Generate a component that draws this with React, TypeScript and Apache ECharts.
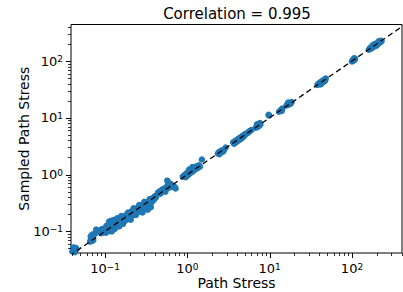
import React, { useEffect, useRef } from 'react';
import * as echarts from 'echarts';

const titleText = 'Correlation = 0.995';
const xName = 'Path Stress';
const yName = 'Sampled Path Stress';

const xMin = 0.0386;
const xMax = 405;
const yMin = 0.0415;
const yMax = 440;

const majorTicks = [0.1, 1, 10, 100];
const minorMultipliers = [2, 3, 4, 5, 6, 7, 8, 9];
const decades = [0.01, 0.1, 1, 10, 100];

// [path stress, sampled path stress]
const cornerCluster: [number, number][] = [
  [0.040, 0.044], [0.041, 0.047], [0.042, 0.050], [0.043, 0.046], [0.044, 0.048],
  [0.041, 0.052], [0.043, 0.043], [0.045, 0.049], [0.042, 0.045], [0.044, 0.051],
];
const smallCluster: [number, number][] = [
  [0.066, 0.066], [0.067, 0.070], [0.068, 0.074], [0.069, 0.068], [0.070, 0.072],
  [0.068, 0.079], [0.069, 0.084], [0.070, 0.088], [0.071, 0.076], [0.067, 0.082],
  [0.072, 0.070], [0.075, 0.090], [0.078, 0.107],
];
const lowBand: [number, number][] = [
  [0.086, 0.098], [0.088, 0.105], [0.090, 0.093], [0.092, 0.110], [0.094, 0.100],
  [0.096, 0.107], [0.098, 0.096], [0.100, 0.112], [0.101, 0.102], [0.103, 0.095],
  [0.105, 0.108], [0.107, 0.118], [0.108, 0.100], [0.110, 0.125], [0.112, 0.112],
  [0.114, 0.104], [0.115, 0.130], [0.117, 0.118], [0.118, 0.108], [0.120, 0.135],
  [0.122, 0.122], [0.124, 0.112], [0.125, 0.140], [0.127, 0.128], [0.128, 0.115],
  [0.130, 0.145], [0.132, 0.132], [0.134, 0.120], [0.136, 0.150], [0.138, 0.138],
  [0.140, 0.125], [0.142, 0.158], [0.145, 0.145], [0.147, 0.132], [0.150, 0.165],
  [0.152, 0.150], [0.155, 0.138], [0.158, 0.172], [0.160, 0.158], [0.163, 0.145],
  [0.166, 0.180], [0.170, 0.165], [0.172, 0.150], [0.175, 0.188], [0.178, 0.172],
  [0.112, 0.148], [0.118, 0.152], [0.126, 0.158], [0.121, 0.100], [0.131, 0.110],
  [0.140, 0.170], [0.148, 0.122], [0.157, 0.185], [0.165, 0.135], [0.104, 0.125],
];
const midBand: [number, number][] = [
  [0.182, 0.160], [0.185, 0.198], [0.188, 0.180], [0.192, 0.168], [0.196, 0.210],
  [0.200, 0.192], [0.204, 0.178], [0.208, 0.222], [0.212, 0.205], [0.216, 0.190],
  [0.220, 0.238], [0.225, 0.218], [0.230, 0.200], [0.235, 0.250], [0.240, 0.230],
  [0.245, 0.212], [0.250, 0.262], [0.256, 0.245], [0.262, 0.225], [0.268, 0.280],
  [0.274, 0.258], [0.280, 0.240], [0.288, 0.298], [0.295, 0.275], [0.302, 0.255],
  [0.310, 0.318], [0.318, 0.292], [0.326, 0.270], [0.335, 0.335], [0.345, 0.310],
  [0.355, 0.290], [0.365, 0.360], [0.375, 0.335], [0.385, 0.390], [0.395, 0.365],
  [0.405, 0.420], [0.415, 0.400],
  [0.190, 0.215], [0.205, 0.160], [0.222, 0.255], [0.238, 0.195], [0.260, 0.290],
  [0.285, 0.215], [0.300, 0.330], [0.330, 0.240], [0.350, 0.370], [0.360, 0.265],
];
const halfCluster: [number, number][] = [
  [0.44, 0.48], [0.46, 0.50], [0.48, 0.52], [0.50, 0.51], [0.50, 0.55], [0.52, 0.53],
  [0.53, 0.57], [0.55, 0.55], [0.56, 0.60], [0.57, 0.78], [0.58, 0.58], [0.58, 0.66],
  [0.60, 0.62], [0.62, 0.60], [0.63, 0.68], [0.65, 0.64], [0.68, 0.62], [0.70, 0.60],
  [0.72, 0.57], [0.47, 0.46], [0.54, 0.50], [0.59, 0.72],
];
const unitCluster: [number, number][] = [
  [0.88, 0.92], [0.92, 0.98], [0.95, 0.90], [0.98, 1.05], [1.00, 0.96], [1.02, 1.10],
  [1.05, 1.02], [1.07, 1.15], [1.10, 1.08], [1.12, 1.22], [1.15, 1.12], [1.18, 1.28],
  [1.20, 1.18], [1.23, 1.35], [1.26, 1.25], [1.30, 1.40], [1.33, 1.30], [1.38, 1.45],
  [1.42, 1.38], [1.50, 1.84], [1.05, 1.22], [1.15, 1.35],
];
const fewCluster: [number, number][] = [
  [2.35, 2.35], [2.42, 2.50], [2.48, 2.40], [2.55, 2.60], [2.60, 2.48], [2.65, 2.66],
  [2.72, 2.55], [2.78, 2.70], [2.92, 3.00], [2.45, 2.28],
];
const fiveCluster: [number, number][] = [
  [3.6, 3.7], [3.8, 3.9], [3.9, 3.7], [4.0, 4.1], [4.1, 3.9], [4.2, 4.3], [4.3, 4.1],
  [4.4, 4.5], [4.5, 4.3], [4.6, 4.7], [4.7, 4.5], [4.8, 4.9], [4.9, 4.8], [5.0, 5.1],
  [5.2, 5.3], [5.4, 5.4], [5.6, 5.7], [5.8, 5.9], [6.0, 6.1], [3.7, 3.5],
];
const sevenCluster: [number, number][] = [
  [6.8, 6.7], [7.0, 7.2], [7.1, 6.9], [7.2, 7.5], [7.3, 7.1], [7.4, 7.8], [7.5, 7.3],
  [7.6, 8.1], [7.7, 7.6], [7.0, 7.7], [9.7, 11.3], [9.8, 11.0],
];
const teenCluster: [number, number][] = [
  [13.0, 12.8], [13.5, 13.6], [14.0, 13.2], [14.2, 14.5], [16.0, 16.5], [16.5, 17.5],
  [17.0, 17.0], [17.5, 18.2], [18.0, 17.8], [18.5, 19.0], [16.8, 18.5],
];
const fortyCluster: [number, number][] = [
  [38, 38], [40, 41], [41, 39], [42, 43], [43, 41], [44, 45], [45, 43], [46, 47],
  [47, 45], [48, 49], [42, 39],
];
const hundredCluster: [number, number][] = [
  [100, 98], [102, 104], [104, 101], [105, 107], [107, 104], [109, 110], [106, 112],
];
const topCluster: [number, number][] = [
  [160, 158], [165, 168], [170, 165], [175, 178], [180, 174], [185, 190], [190, 185],
  [195, 200], [200, 195], [205, 212], [210, 205], [215, 220], [220, 214], [225, 228],
  [218, 225], [205, 200], [182, 185], [168, 172], [228, 222], [178, 190], [198, 186],
  [212, 222], [188, 198],
];

const diagonal: [number, number][] = [[0.03, 0.03], [600, 600]];

const FONT = 'DejaVu Sans';

function supLabel(v: number): string {
  const l = Math.log10(v);
  const e = Math.round(l);
  if (Math.abs(l - e) > 1e-6) return '';
  const es = e < 0 ? '\u2212' + String(-e) : String(e);
  return '{b|10}{s|' + es + '}';
}

const richStyle = {
  b: { fontSize: 13, fontFamily: FONT, color: '#000' },
  s: { fontSize: 9, fontFamily: FONT, color: '#000', verticalAlign: 'top' as const },
};

export default function App() {
  const ref = useRef<HTMLDivElement>(null);
  useEffect(() => {
    if (!ref.current) return;
    const chart = echarts.init(ref.current, undefined, { renderer: 'svg' });
    const points = [
      ...cornerCluster, ...smallCluster, ...lowBand, ...midBand, ...halfCluster,
      ...unitCluster, ...fewCluster, ...fiveCluster, ...sevenCluster, ...teenCluster,
      ...fortyCluster, ...hundredCluster, ...topCluster,
    ];
    const minorX: number[][] = [];
    const minorY: number[][] = [];
    decades.forEach((d) => {
      minorMultipliers.forEach((m) => {
        const v = m * d;
        if (v > xMin && v < xMax) minorX.push([v, yMin]);
        if (v > yMin && v < yMax) minorY.push([xMin, v]);
      });
    });
    const majorX = majorTicks.map((v) => [v, yMin]);
    const majorY = majorTicks.map((v) => [xMin, v]);

    const tickSeries = (data: number[][], horizontal: boolean, len: number, lw: number) => ({
      type: 'custom',
      coordinateSystem: 'cartesian2d',
      silent: true,
      clip: false,
      z: 5,
      data,
      renderItem: (params: any, api: any) => {
        const p = api.coord([api.value(0), api.value(1)]);
        const x = horizontal ? Math.round(p[0]) + 0.5 : p[0];
        const y = horizontal ? p[1] : Math.round(p[1]) + 0.5;
        return {
          type: 'line',
          shape: horizontal
            ? { x1: x, y1: y, x2: x, y2: y + len }
            : { x1: x, y1: y, x2: x - len, y2: y },
          style: { stroke: '#000', lineWidth: lw },
        };
      },
    });

    chart.setOption({
      animation: false,
      grid: {
        left: 71,
        right: 1,
        top: 24.5,
        bottom: 39,
        show: true,
        borderColor: '#000',
        borderWidth: 1,
        backgroundColor: 'transparent',
        outerBoundsMode: 'none',
      },
      graphic: [
        {
          type: 'text',
          x: 237,
          y: 14,
          style: {
            text: titleText,
            fontSize: 15,
            fontFamily: FONT,
            fill: '#000',
            align: 'center',
            verticalAlign: 'middle',
          },
        },
      ],
      xAxis: {
        type: 'log',
        logBase: 10,
        min: xMin,
        max: xMax,
        name: xName,
        nameLocation: 'middle',
        nameGap: 23,
        nameMoveOverlap: false,
        nameTextStyle: { fontSize: 14, fontFamily: FONT, color: '#000' },
        axisLine: { show: false },
        axisTick: { show: false },
        splitLine: { show: false },
        minorTick: { show: false },
        axisLabel: {
          margin: 9,
          formatter: supLabel,
          rich: richStyle,
          showMinLabel: false,
          showMaxLabel: false,
        },
      },
      yAxis: {
        type: 'log',
        logBase: 10,
        min: yMin,
        max: yMax,
        name: yName,
        nameLocation: 'middle',
        nameRotate: 90,
        nameGap: 40,
        nameMoveOverlap: false,
        nameTextStyle: { fontSize: 14, fontFamily: FONT, color: '#000' },
        axisLine: { show: false },
        axisTick: { show: false },
        splitLine: { show: false },
        minorTick: { show: false },
        axisLabel: {
          margin: 8,
          formatter: supLabel,
          rich: richStyle,
          showMinLabel: false,
          showMaxLabel: false,
        },
      },
      series: [
        {
          type: 'scatter',
          data: points,
          symbol: 'circle',
          symbolSize: 6.5,
          itemStyle: { color: '#1f77b4', opacity: 1 },
          z: 2,
          clip: true,
        },
        {
          type: 'line',
          data: diagonal,
          symbol: 'none',
          clip: true,
          z: 3,
          lineStyle: { color: '#000', width: 1.3, type: [5.5, 3.5] },
        },
        tickSeries(majorX, true, 5, 1),
        tickSeries(majorY, false, 5, 1),
        tickSeries(minorX, true, 3, 0.8),
        tickSeries(minorY, false, 3, 0.8),
      ],
    });
    return () => chart.dispose();
  }, []);
  return (
    <div
      ref={ref}
      style={{ position: 'fixed', left: 0, top: 0, width: 403, height: 292, background: '#fff' }}
    />
  );
}
